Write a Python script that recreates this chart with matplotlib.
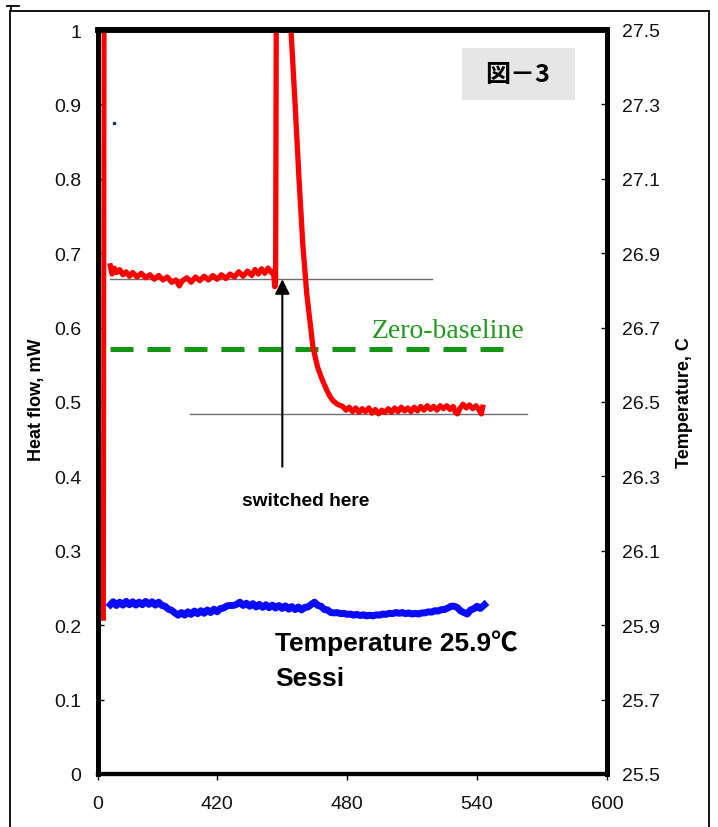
import matplotlib
matplotlib.use("Agg")
import matplotlib.pyplot as plt
from matplotlib.lines import Line2D
from matplotlib.patches import Rectangle

# ---------------- data ----------------
x_tick_pos = [365, 420, 480, 540, 600]
x_tick_labels = ["0", "420", "480", "540", "600"]
hf_ticks = [0, 0.1, 0.2, 0.3, 0.4, 0.5, 0.6, 0.7, 0.8, 0.9, 1]
hf_tick_labels = ["0", "0.1", "0.2", "0.3", "0.4", "0.5", "0.6", "0.7", "0.8", "0.9", "1"]
temp_ticks = [25.5, 25.7, 25.9, 26.1, 26.3, 26.5, 26.7, 26.9, 27.1, 27.3, 27.5]

# initial heat-flow spike (separate segment)
red_init_x = [367.5, 367.9]
red_init_y = [0.206, 1.2]

# heat flow (mW)
red_x = [370.7, 371.5, 372.5, 373.5, 375, 376.5, 378, 379.5, 381, 383, 385, 387, 389, 391,
         393, 395, 397, 399, 401, 402.5, 404, 406, 408, 410, 412, 414, 416, 418, 420, 422,
         424, 426, 428, 430, 432, 434, 436, 437.5, 439, 440.5, 442, 443.5, 445, 446, 446.6,
         447.0, 447.6, 454.1, 456.0, 457.8, 459.6, 461.4, 463.0, 464.2, 465.4, 466.5, 468.5,
         470.6, 472.0, 473.4, 475.5,
         478, 479.5, 481, 482.5, 484, 485.5, 487, 488.5, 490, 491.5, 493, 494.5, 496, 497.5,
         499, 500.5, 502, 503.5, 505, 506.5, 508, 509.5, 511, 512.5, 514, 515.5, 517, 518.5,
         520, 521.5, 523, 524.5, 526, 527.5, 529, 530, 531, 532, 533.5, 535, 536.5, 538,
         539.5, 541, 542, 542.6]
red_y = [0.683, 0.672, 0.680, 0.674, 0.678, 0.671, 0.675, 0.669, 0.674, 0.668, 0.673, 0.667,
         0.671, 0.665, 0.670, 0.664, 0.668, 0.661, 0.664, 0.656, 0.663, 0.667, 0.661, 0.668,
         0.663, 0.669, 0.664, 0.670, 0.665, 0.671, 0.666, 0.672, 0.668, 0.675, 0.669, 0.676,
         0.670, 0.678, 0.672, 0.679, 0.673, 0.680, 0.674, 0.676, 0.655,
         0.660, 1.35, 1.0, 0.90, 0.80, 0.71, 0.645, 0.605, 0.575, 0.559, 0.546, 0.530,
         0.516, 0.508, 0.502, 0.497,
         0.494, 0.489, 0.493, 0.487, 0.492, 0.486, 0.491, 0.487, 0.492, 0.485, 0.490, 0.484,
         0.489, 0.486, 0.491, 0.486, 0.492, 0.487, 0.493, 0.488, 0.492, 0.487, 0.493, 0.488,
         0.494, 0.489, 0.495, 0.490, 0.494, 0.489, 0.495, 0.491, 0.495, 0.490, 0.494, 0.486,
         0.484, 0.491, 0.497, 0.492, 0.496, 0.491, 0.495, 0.489, 0.484, 0.493]

# temperature (C)
blue_x = [370.7, 372, 373.5, 375, 376.5, 378, 379.5, 381, 382.5, 384, 385.5, 387, 388.5, 390,
          391.5, 393, 394.5, 396, 397.5, 399, 400.5, 402, 403.5, 405, 406.5, 408, 409.5, 411,
          412.5, 414, 415.5, 417, 418.5, 420, 421.5, 423, 424.5, 426, 427.5, 429, 430.5, 432,
          433.5, 435, 436.5, 438, 439.5, 441, 442.5, 444, 445.5, 447, 448.5, 450, 451.5, 453,
          454.5, 456, 457.5, 459, 460.5, 462, 463.5, 465, 466.5, 468, 469.5, 471, 472.5, 474,
          475.5, 477, 478.5, 480, 481.5, 483, 484.5, 486, 487.5, 489, 490.5, 492, 493.5, 495,
          496.5, 498, 499.5, 501, 502.5, 504, 505.5, 507, 508.5, 510, 511.5, 513, 514.5, 516,
          517.5, 519, 520.5, 522, 523.5, 525, 526.5, 528, 529.5, 531, 532.5, 534, 535.5, 537,
          538.5, 540, 541.5, 543.4]
blue_y = [25.955, 25.963, 25.953, 25.962, 25.954, 25.964, 25.955, 25.963, 25.954, 25.962,
          25.955, 25.964, 25.956, 25.963, 25.954, 25.962, 25.953, 25.951, 25.943, 25.940,
          25.933, 25.927, 25.934, 25.927, 25.936, 25.929, 25.938, 25.931, 25.939, 25.932,
          25.941, 25.934, 25.943, 25.936, 25.945, 25.946, 25.952, 25.953, 25.953, 25.956,
          25.962, 25.953, 25.959, 25.951, 25.958, 25.949, 25.956, 25.948, 25.955, 25.947,
          25.954, 25.946, 25.953, 25.945, 25.952, 25.943, 25.950, 25.942, 25.949, 25.941,
          25.948, 25.949, 25.956, 25.962, 25.953, 25.951, 25.942, 25.941, 25.934, 25.933,
          25.934, 25.931, 25.932, 25.929, 25.930, 25.927, 25.929, 25.926, 25.928, 25.925,
          25.927, 25.925, 25.928, 25.927, 25.930, 25.929, 25.932, 25.931, 25.934, 25.932,
          25.934, 25.931, 25.933, 25.930, 25.932, 25.930, 25.933, 25.933, 25.936, 25.935,
          25.939, 25.938, 25.942, 25.942, 25.946, 25.951, 25.951, 25.947, 25.938, 25.934,
          25.930, 25.941, 25.944, 25.951, 25.945, 25.955]

zero_baseline = 0.571
zero_x = [370.7, 554]
ref_upper = 0.665
ref_upper_x = [370.7, 519]
ref_lower = 0.4845
ref_lower_x = [407.6, 563.2]
arrow_x = 450.1
arrow_from, arrow_to = 0.413, 0.665

# ---------------- figure ----------------
fig = plt.figure(figsize=(7.18, 8.28), dpi=100)
ax = fig.add_axes([98 / 718, 53 / 828, 509 / 718, 744 / 828])
ax2 = ax.twinx()

sans = ["Liberation Sans", "Noto Sans CJK JP", "DejaVu Sans"]

ax.set_xlim(365, 600)
ax.set_ylim(0, 1)
ax2.set_ylim(25.5, 27.5)

ax.plot(red_init_x, red_init_y, color="#ff0000", lw=3.6, solid_capstyle="butt", zorder=3)
ax.plot(red_x, red_y, color="#ff0000", lw=3.8, zorder=3)
ax2.plot(blue_x, blue_y, color="#0a0aff", lw=5.0, zorder=3)

ax.plot(ref_upper_x, [ref_upper, ref_upper], color="#6e6e6e", lw=1.0, zorder=2)
ax.plot(ref_lower_x, [ref_lower, ref_lower], color="#6e6e6e", lw=1.0, zorder=2)
ax.plot(zero_x, [zero_baseline, zero_baseline], color="#149614", lw=3.6,
        dashes=(4.6, 2.8), zorder=2)
ax.plot([372.4], [0.875], marker="s", ms=1.5, color="#223355", ls="none")

ax.annotate("", xy=(arrow_x, arrow_to), xytext=(arrow_x, arrow_from),
            arrowprops=dict(arrowstyle="-|>", color="black", lw=1.5,
                            mutation_scale=22, shrinkA=0, shrinkB=0))

ax.text(491.4, 0.588, "Zero-baseline", color="#1f9a1f", fontsize=20,
        family="Liberation Serif", va="baseline", ha="left")
ax.text(431.5, 0.362, "switched here", fontsize=13.8, fontweight="bold",
        family=sans, va="baseline", ha="left")
ax.text(446.7, 0.166, "Temperature 25.9℃", fontsize=19, fontweight="bold",
        family=sans, va="baseline", ha="left")
ax.text(446.7, 0.120, "Sessi", fontsize=19, fontweight="bold",
        family=sans, va="baseline", ha="left")

# grey title box
ax.add_patch(Rectangle((0.715, 0.906), 0.222, 0.070, transform=ax.transAxes,
                       facecolor="#e6e6e6", edgecolor="none", zorder=4))
ax.text(0.825, 0.941, "図－3", transform=ax.transAxes, fontsize=18, fontweight="bold",
        family=["Noto Sans CJK JP", "DejaVu Sans"], ha="center", va="center", zorder=5)

# ticks
ax.set_xticks(x_tick_pos)
ax.set_xticklabels(x_tick_labels)
ax.set_yticks(hf_ticks)
ax.set_yticklabels(hf_tick_labels)
ax2.set_yticks(temp_ticks)
ax2.set_yticklabels([f"{t:.1f}" for t in temp_ticks])

ax.tick_params(axis="x", direction="out", length=4, width=1, pad=11, labelsize=14)
ax.tick_params(axis="y", direction="in", length=4, width=1, pad=12, labelsize=14)
ax2.tick_params(axis="y", direction="in", length=4, width=1, pad=11, labelsize=14)
for lab in ax.get_xticklabels() + ax.get_yticklabels() + ax2.get_yticklabels():
    lab.set_family(sans)
    lab.set_color("#111111")

ax.set_ylabel("Heat flow, mW", fontsize=13, fontweight="bold", family=sans, va="center")
ax.yaxis.set_label_coords(-0.12, 0.505)
ax2.set_ylabel("Temperature, C", fontsize=13, fontweight="bold", family=sans,
               va="center", rotation=90)
ax2.yaxis.set_label_coords(1.152, 0.501)

for a in (ax, ax2):
    a.spines["top"].set_linewidth(4.0)
    a.spines["left"].set_linewidth(3.5)
    a.spines["right"].set_linewidth(3.5)
    a.spines["bottom"].set_linewidth(3.0)
    for s in a.spines.values():
        s.set_color("black")

# outer frame
fw = 1.3
fig.add_artist(Line2D([10 / 718, 10 / 718], [0, 1 - 12 / 828], color="black", lw=fw))
fig.add_artist(Line2D([10 / 718, 709 / 718], [1 - 12 / 828, 1 - 12 / 828], color="black", lw=fw))
fig.add_artist(Line2D([709 / 718, 709 / 718], [0, 1 - 12 / 828], color="black", lw=fw))
fig.add_artist(Line2D([7 / 718, 19 / 718], [1 - 7 / 828, 1 - 7 / 828], color="black", lw=fw))
fig.add_artist(Line2D([11 / 718, 11 / 718], [1 - 7 / 828, 1 - 12 / 828], color="black", lw=fw))

fig.savefig("out.png", dpi=100)
